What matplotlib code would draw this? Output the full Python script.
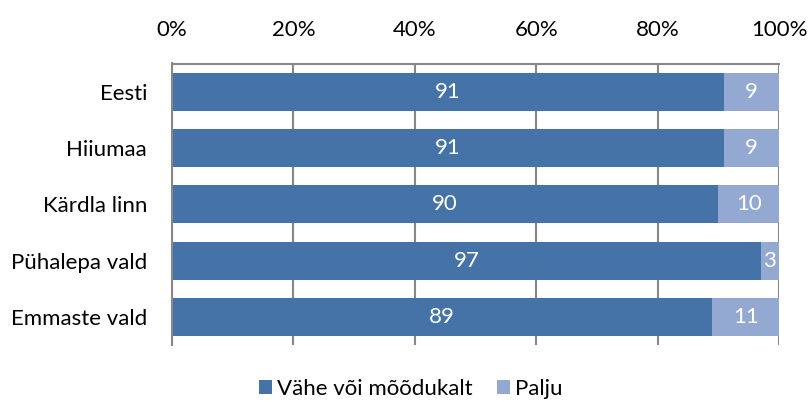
import matplotlib.pyplot as plt
import numpy as np

plt.rcParams["font.family"] = ["Lato", "DejaVu Sans"]

categories = ["Eesti", "Hiiumaa", "Kärdla linn", "Pühalepa vald", "Emmaste vald"]
vahe = [91, 91, 90, 97, 89]
palju = [9, 9, 10, 3, 11]
series_names = ["Vähe või mõõdukalt", "Palju"]
tick_vals = [0, 20, 40, 60, 80, 100]

dark = "#4573a7"
light = "#94a9d2"
grid_col = "#878787"
fs = 16

fig = plt.figure(figsize=(8.08, 4.07), dpi=100)
ax = fig.add_axes([172 / 808, 1 - 345 / 407, 607 / 808, (345 - 63.5) / 407])

y = np.arange(len(categories))
h = 0.675
b1 = ax.barh(y, vahe, height=h, color=dark, label=series_names[0], zorder=2)
b2 = ax.barh(y, palju, left=vahe, height=h, color=light, label=series_names[1], zorder=2)

for bars, vals, lefts in [(b1, vahe, [0] * len(vahe)), (b2, palju, vahe)]:
    for bar, v, l in zip(bars, vals, lefts):
        ax.text(l + v / 2, bar.get_y() + bar.get_height() / 2, str(v),
                ha="center", va="center", color="white", fontsize=fs, zorder=3)

ax.set_xlim(0, 100)
ax.set_ylim(len(categories) - 0.5, -0.5)
ax.set_xticks(tick_vals)
ax.set_xticklabels([f"{t}%" for t in tick_vals])
ax.xaxis.tick_top()
ax.tick_params(axis="x", length=0, pad=17, labelsize=fs)
ax.set_yticks(y)
ax.set_yticklabels(categories)
ax.tick_params(axis="y", length=0, pad=18, labelsize=fs)

ax.grid(axis="x", color=grid_col, linewidth=1.5, zorder=1)
ax.set_axisbelow(True)
for s in ["right", "bottom"]:
    ax.spines[s].set_visible(False)
for s in ["top", "left"]:
    ax.spines[s].set_color(grid_col)
    ax.spines[s].set_linewidth(1.5)

fig.legend(handles=[b1, b2], loc="center", bbox_to_anchor=(411 / 808, 1 - 389 / 407),
           ncol=2, frameon=False, fontsize=fs, handlelength=0.55, handleheight=0.55,
           handletextpad=0.25, columnspacing=1.1)

fig.savefig("out.png", dpi=100)
